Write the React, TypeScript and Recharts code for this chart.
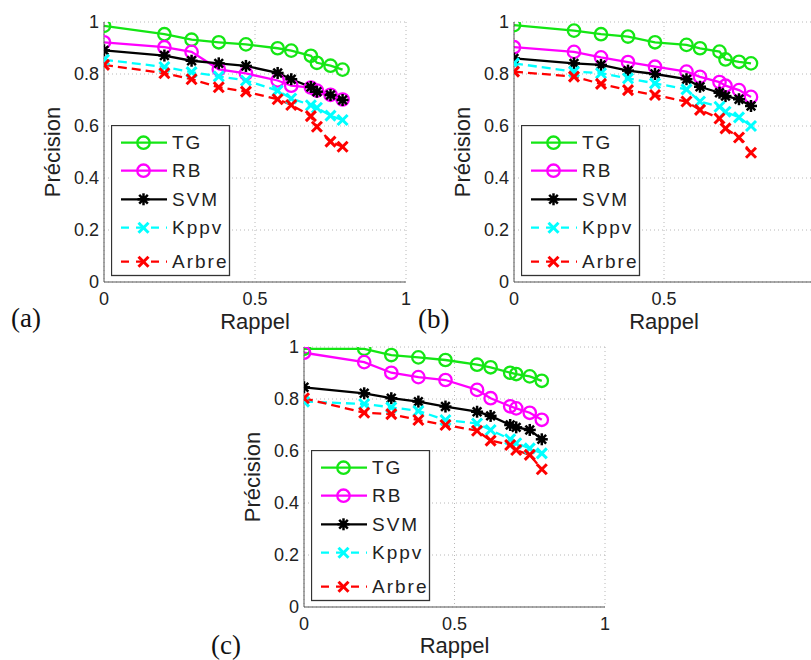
import React from 'react';
import { LineChart, Line, XAxis, YAxis, CartesianGrid, Legend } from 'recharts';

// Recall (x) values shared by every curve
const recall = [0, 0.2, 0.29, 0.38, 0.47, 0.575, 0.62, 0.685, 0.705, 0.75, 0.79];

// Panel (a)
const tgA = [0.985, 0.953, 0.932, 0.922, 0.914, 0.899, 0.89, 0.87, 0.843, 0.832, 0.817];
const rbA = [0.922, 0.903, 0.885, 0.818, 0.802, 0.775, 0.755, 0.748, 0.736, 0.72, 0.702];
const svmA = [0.891, 0.871, 0.851, 0.841, 0.831, 0.804, 0.78, 0.75, 0.732, 0.719, 0.7];
const kppvA = [0.855, 0.827, 0.807, 0.791, 0.775, 0.736, 0.706, 0.68, 0.67, 0.64, 0.623];
const arbreA = [0.835, 0.803, 0.78, 0.749, 0.732, 0.703, 0.681, 0.638, 0.597, 0.54, 0.52];

// Panel (b)
const tgB = [0.988, 0.967, 0.953, 0.944, 0.922, 0.912, 0.899, 0.886, 0.856, 0.847, 0.841];
const rbB = [0.903, 0.885, 0.864, 0.846, 0.828, 0.809, 0.789, 0.769, 0.755, 0.738, 0.712];
const svmB = [0.86, 0.841, 0.835, 0.813, 0.8, 0.78, 0.751, 0.728, 0.715, 0.703, 0.677];
const kppvB = [0.841, 0.809, 0.803, 0.783, 0.764, 0.741, 0.694, 0.674, 0.655, 0.633, 0.6];
const arbreB = [0.809, 0.79, 0.762, 0.738, 0.719, 0.694, 0.662, 0.629, 0.591, 0.556, 0.497];

// Panel (c)
const tgC = [0.993, 0.993, 0.969, 0.96, 0.95, 0.932, 0.922, 0.901, 0.896, 0.887, 0.87];
const rbC = [0.978, 0.942, 0.901, 0.884, 0.873, 0.835, 0.803, 0.772, 0.764, 0.747, 0.72];
const svmC = [0.845, 0.822, 0.803, 0.79, 0.771, 0.751, 0.735, 0.7, 0.691, 0.681, 0.645];
const kppvC = [0.79, 0.781, 0.768, 0.754, 0.719, 0.706, 0.681, 0.645, 0.63, 0.61, 0.591];
const arbreC = [0.803, 0.747, 0.742, 0.719, 0.7, 0.678, 0.64, 0.623, 0.604, 0.585, 0.53];

const seriesNames = ['TG', 'RB', 'SVM', 'Kppv', 'Arbre'];
const xTicks = [0, 0.5, 1];
const yTicks = [0, 0.2, 0.4, 0.6, 0.8, 1];
const panelLabels = ['(a)', '(b)', '(c)'];
const xLabel = 'Rappel';
const yLabel = 'Précision';

type SeriesStyle = { color: string; dash?: string; marker: 'circle' | 'star' | 'x' };
const seriesStyles: Record<string, SeriesStyle> = {
  TG: { color: '#14e614', marker: 'circle' },
  RB: { color: '#ff00ff', marker: 'circle' },
  SVM: { color: '#000000', marker: 'star' },
  Kppv: { color: '#00ffff', dash: '9 5', marker: 'x' },
  Arbre: { color: '#ff0000', dash: '9 5', marker: 'x' },
};

const build = (cols: number[][]) =>
  recall.map((r, i) => {
    const row: Record<string, number> = { recall: r };
    seriesNames.forEach((n, k) => {
      row[n] = cols[k][i];
    });
    return row;
  });

const dataA = build([tgA, rbA, svmA, kppvA, arbreA]);
const dataB = build([tgB, rbB, svmB, kppvB, arbreB]);
const dataC = build([tgC, rbC, svmC, kppvC, arbreC]);

function Marker({ kind, cx, cy, color }: { kind: string; cx: number; cy: number; color: string }) {
  if (kind === 'circle') {
    return <circle cx={cx} cy={cy} r={6.2} fill="none" stroke={color} strokeWidth={2.3} />;
  }
  if (kind === 'star') {
    const a = 6;
    const d = a * 0.72;
    return (
      <g stroke={color} strokeWidth={2.5}>
        <circle cx={cx} cy={cy} r={3.2} fill={color} stroke="none" />
        <line x1={cx - a} y1={cy} x2={cx + a} y2={cy} />
        <line x1={cx} y1={cy - a} x2={cx} y2={cy + a} />
        <line x1={cx - d} y1={cy - d} x2={cx + d} y2={cy + d} />
        <line x1={cx - d} y1={cy + d} x2={cx + d} y2={cy - d} />
      </g>
    );
  }
  const s = 5;
  return (
    <g stroke={color} strokeWidth={3}>
      <line x1={cx - s} y1={cy - s} x2={cx + s} y2={cy + s} />
      <line x1={cx - s} y1={cy + s} x2={cx + s} y2={cy - s} />
    </g>
  );
}

const legendRows = [17.7, 45.7, 74.3, 102.7, 136.7];

function LegendBox() {
  return (
    <svg width={120} height={152} style={{ display: 'block' }}>
      <rect x={0.5} y={0.5} width={118} height={150} fill="#ffffff" stroke="#333333" strokeWidth={1.3} />
      {seriesNames.map((n, i) => {
        const st = seriesStyles[n];
        const y = legendRows[i];
        return (
          <g key={n}>
            <line x1={10} y1={y} x2={56} y2={y} stroke={st.color} strokeWidth={2.3} strokeDasharray={st.dash ? '8 7' : undefined} />
            <Marker kind={st.marker} cx={32.5} cy={y} color={st.color} />
            <text x={61} y={y} dominantBaseline="central" fontSize={19} fill="#222" letterSpacing={2} fontFamily="Liberation Sans, Arial, sans-serif">
              {n}
            </text>
          </g>
        );
      })}
    </svg>
  );
}

const tickStyle = { fontSize: 18, fill: '#222', fontFamily: 'Liberation Sans, Arial, sans-serif' };
const labelStyle = { fontSize: 22, fill: '#222', fontFamily: 'Liberation Sans, Arial, sans-serif' };

function Panel({
  data,
  left,
  top,
  width,
  height,
  rightMargin,
  xAxisHeight,
  xLabelDy,
  maxXLabel,
}: {
  data: Record<string, number>[];
  left: number;
  top: number;
  width: number;
  height: number;
  rightMargin: number;
  xAxisHeight: number;
  xLabelDy: number;
  maxXLabel: number;
}) {
  return (
    <div style={{ position: 'absolute', left, top }}>
      <LineChart width={width} height={height} data={data} margin={{ top: 22, right: rightMargin, left: 0, bottom: 0 }}>
        <CartesianGrid stroke="#b8b8b8" strokeDasharray="1 3" horizontalValues={yTicks} verticalValues={xTicks} />
        <XAxis
          dataKey="recall"
          type="number"
          domain={[0, 1]}
          ticks={xTicks}
          allowDataOverflow
          height={xAxisHeight}
          tickLine={false}
          tickSize={3}
          tickMargin={7}
          tick={tickStyle}
          axisLine={{ stroke: '#555', strokeWidth: 1 }}
          tickFormatter={(v: number) => (v <= maxXLabel ? String(v) : '')}
          label={{ value: xLabel, position: 'center', dy: xLabelDy, style: labelStyle }}
        />
        <YAxis
          type="number"
          domain={[0, 1]}
          ticks={yTicks}
          allowDataOverflow
          width={104}
          tickLine={false}
          tickSize={3}
          tickMargin={2}
          tick={tickStyle}
          axisLine={{ stroke: '#555', strokeWidth: 1 }}
          tickFormatter={(v: number) => String(v)}
          label={{ value: yLabel, position: 'center', angle: -90, style: labelStyle }}
        />
        <Legend
          layout="vertical"
          align="center"
          verticalAlign="middle"
          content={() => <LegendBox />}
          wrapperStyle={{ position: 'absolute', left: 111, top: 125, width: 120, height: 152 }}
        />
        {seriesNames.map((n) => {
          const st = seriesStyles[n];
          return (
            <Line
              key={n}
              dataKey={n}
              name={n}
              stroke={st.color}
              strokeWidth={2.3}
              strokeDasharray={st.dash}
              isAnimationActive={false}
              activeDot={false}
              dot={(p: any) => <Marker key={`${n}-${p.index}`} kind={st.marker} cx={p.cx} cy={p.cy} color={st.color} />}
            />
          );
        })}
      </LineChart>
    </div>
  );
}

const panelLabelStyle: React.CSSProperties = {
  position: 'absolute',
  fontFamily: 'Liberation Serif, Times New Roman, serif',
  fontSize: 27,
  lineHeight: 1,
  color: '#111',
};

export default function App() {
  return (
    <div style={{ position: 'absolute', left: 0, top: 0, width: 811, height: 660, overflow: 'hidden', background: '#fff' }}>
      <Panel data={dataA} left={0} top={0} width={430} height={345} rightMargin={24} xAxisHeight={63} xLabelDy={8} maxXLabel={1} />
      <Panel data={dataB} left={410} top={0} width={420} height={345} rightMargin={16} xAxisHeight={63} xLabelDy={8} maxXLabel={0.5} />
      <Panel data={dataC} left={200} top={325} width={420} height={335} rightMargin={15} xAxisHeight={53} xLabelDy={12} maxXLabel={1} />
      <div style={{ ...panelLabelStyle, left: 11, top: 305 }}>{panelLabels[0]}</div>
      <div style={{ ...panelLabelStyle, left: 418, top: 306 }}>{panelLabels[1]}</div>
      <div style={{ ...panelLabelStyle, left: 211, top: 632 }}>{panelLabels[2]}</div>
    </div>
  );
}
